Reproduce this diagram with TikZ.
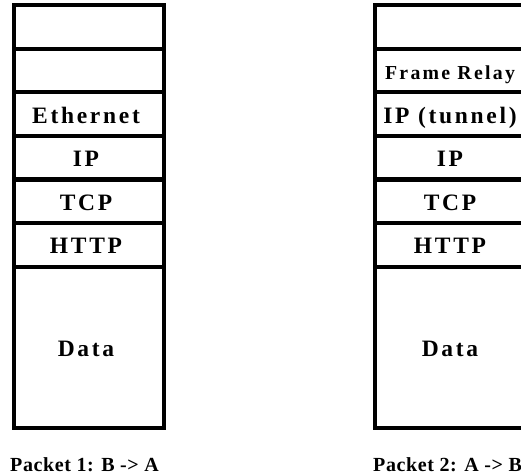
\documentclass[tikz,border=0pt]{standalone}
\usepackage{fontspec}
\setmainfont{Liberation Serif}
\newfontfamily\cellfont{Liberation Serif}[LetterSpace=11.5]
\newfontfamily\labfont{Liberation Serif}[LetterSpace=3]
\begin{document}
\begin{tikzpicture}[x=1pt,y=-1pt,
  cell/.style={draw=black, line width=4.2pt, minimum width=150pt, minimum height=43.6pt,
    inner sep=0pt, text height=18pt, text depth=0pt,
    font=\cellfont\bfseries\fontsize{23.5}{25}\selectfont},
  leftcell/.style={cell, execute at begin node={\hspace*{-6pt}}},
  smallcell/.style={cell, font=\cellfont\bfseries\fontsize{19.8}{21}\selectfont},
  datacell/.style={leftcell, minimum height=161.4pt},
  rdatacell/.style={cell, minimum height=161.4pt},
  lab/.style={anchor=base west, inner sep=0pt,
    font=\labfont\bfseries\fontsize{20}{22}\selectfont}]
\useasboundingbox (0,0) rectangle (521,475);
\clip (0,0) rectangle (521,475);
% left stack
\node[cell] (l1) at (89,26.8) {};
\node[cell] (l2) at (89,70.4) {};
\node[leftcell] (l3) at (89,114) {Ethernet};
\node[leftcell] (l4) at (89,157.6) {IP};
\node[leftcell] (l5) at (89,201.2) {TCP};
\node[leftcell] (l6) at (89,244.8) {HTTP};
\node[datacell] (l7) at (89,347.3) {Data};
% right stack
\node[cell] (r1) at (450,26.8) {};
\node[smallcell] (r2) at (450,70.4) {Frame Relay};
\node[cell] (r3) at (450,114) {IP (tunnel)};
\node[cell] (r4) at (450,157.6) {IP};
\node[cell] (r5) at (450,201.2) {TCP};
\node[cell] (r6) at (450,244.8) {HTTP};
\node[rdatacell] (r7) at (450,347.3) {Data};
% labels
\node[lab] (p1) at (10,471) {Packet 1: B -> A};
\node[lab] (p2) at (373,471) {Packet 2: A -> B};
\end{tikzpicture}
\end{document}
